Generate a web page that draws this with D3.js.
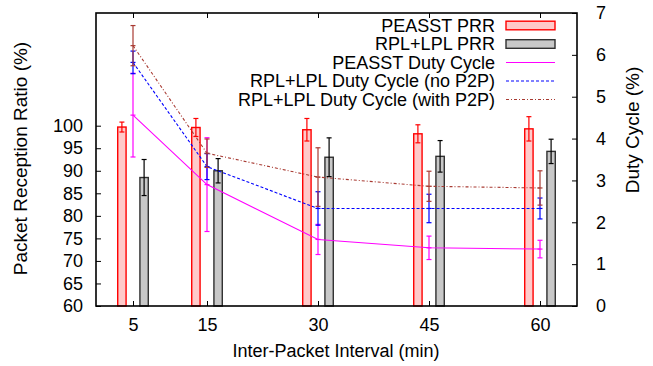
<!DOCTYPE html>
<html><head><meta charset="utf-8">
<script src="https://cdn.jsdelivr.net/npm/d3@7"></script>
<style>
html,body{margin:0;padding:0;background:#fff;}
svg text{font-family:"Liberation Sans",Arial,Helvetica,sans-serif;fill:#000;}
</style></head>
<body><svg id="c" width="653" height="366"></svg>
<script>
// ---- data ----
const intervals = [5, 15, 30, 45, 60];
const peasstPRR = [99.7, 99.6, 99.1, 98.2, 99.3];
const peasstPRRErr = [1.1, 2.0, 2.5, 2.0, 2.7];
const rplPRR = [88.5, 90.0, 93.0, 93.2, 94.3];
const rplPRRErr = [4.0, 2.7, 4.3, 3.5, 2.7];
const peasstDC = [4.56, 2.90, 1.59, 1.39, 1.36];
const peasstDCErr = [1.0, 1.12, 0.36, 0.28, 0.21];
const rplDCnoP2P = [5.82, 3.33, 2.33, 2.33, 2.33];
const rplDCnoP2PErr = [0.27, 0.31, 0.40, 0.34, 0.25];
const rplDCP2P = [6.22, 3.65, 3.08, 2.86, 2.82];
const rplDCP2PErr = [0.48, 0.34, 0.70, 0.36, 0.41];
const leftTicks = [60, 65, 70, 75, 80, 85, 90, 95, 100];
const rightTicks = [0, 1, 2, 3, 4, 5, 6, 7];
const legendLabels = ["PEASST PRR", "RPL+LPL PRR", "PEASST Duty Cycle", "RPL+LPL Duty Cycle (no P2P)", "RPL+LPL Duty Cycle (with P2P)"];

// ---- layout ----
const L = 96, R = 577, T = 13, B = 306;
const svg = d3.select("#c");
const x = d3.scaleLinear().domain([0, 65]).range([L, R]);
const yL = d3.scaleLinear().domain([60, 125]).range([B, T]);
const yR = d3.scaleLinear().domain([0, 7]).range([B, T]);
const FS = 18;
const barOff = 1.5, barW = 1.13;
const bw = x(barW) - x(0);
const brown = "#a83a32";

// bars
const gBars = svg.append("g");
function bars(vals, errs, off, fill, stroke, errColor) {
  intervals.forEach((iv, i) => {
    const cx = x(iv + off);
    gBars.append("rect").attr("x", cx - bw / 2).attr("y", yL(vals[i]))
      .attr("width", bw).attr("height", yL(60) - yL(vals[i]))
      .attr("fill", fill).attr("stroke", stroke).attr("stroke-width", 1.4);
    const e = gBars.append("g").attr("stroke", errColor).attr("stroke-width", 1.2);
    e.append("line").attr("x1", cx).attr("x2", cx).attr("y1", yL(vals[i] - errs[i])).attr("y2", yL(vals[i] + errs[i]));
    [vals[i] - errs[i], vals[i] + errs[i]].forEach(v =>
      e.append("line").attr("x1", cx - 2.5).attr("x2", cx + 2.5).attr("y1", yL(v)).attr("y2", yL(v)));
  });
}
bars(peasstPRR, peasstPRRErr, -barOff, "#ffcaca", "#ff0000", "#ff0000");
bars(rplPRR, rplPRRErr, barOff, "#c8c8c8", "#303030", "#000");

// duty cycle lines
const lineGen = d3.line().x(d => x(d[0])).y(d => yR(d[1]));
function dcLine(vals, errs, color, dash) {
  const g = svg.append("g");
  g.append("path").datum(intervals.map((iv, i) => [iv, vals[i]]))
    .attr("d", lineGen).attr("fill", "none").attr("stroke", color)
    .attr("stroke-width", 1.1).attr("stroke-dasharray", dash);
  intervals.forEach((iv, i) => {
    const cx = x(iv);
    const e = g.append("g").attr("stroke", color).attr("stroke-width", 1.2);
    e.append("line").attr("x1", cx).attr("x2", cx).attr("y1", yR(vals[i] - errs[i])).attr("y2", yR(vals[i] + errs[i]));
    [vals[i] - errs[i], vals[i], vals[i] + errs[i]].forEach(v =>
      e.append("line").attr("x1", cx - 2.5).attr("x2", cx + 2.5).attr("y1", yR(v)).attr("y2", yR(v)));
  });
}
dcLine(peasstDC, peasstDCErr, "#ff00ff", null);
dcLine(rplDCnoP2P, rplDCnoP2PErr, "#0000ff", "3,2");
dcLine(rplDCP2P, rplDCP2PErr, brown, "3,2,1,2");

// axes
function styleAxis(g) {
  g.select(".domain").remove();
  g.selectAll(".tick line").attr("stroke", "#000").attr("stroke-width", 1);
  g.selectAll("text").attr("font-size", FS).attr("font-family", null);
}
svg.append("g").attr("transform", `translate(0,${B})`)
  .call(d3.axisBottom(x).tickValues(intervals).tickSize(-5).tickPadding(12).tickFormat(d3.format("d"))).call(styleAxis);
svg.append("g").attr("transform", `translate(0,${T})`)
  .call(d3.axisTop(x).tickValues(intervals).tickSize(-5).tickFormat("")).call(styleAxis);
svg.append("g").attr("transform", `translate(${L},0)`)
  .call(d3.axisLeft(yL).tickValues(leftTicks).tickSize(-5).tickPadding(13).tickFormat(d3.format("d"))).call(styleAxis);
svg.append("g").attr("transform", `translate(${R},0)`)
  .call(d3.axisRight(yR).tickValues(rightTicks).tickSize(-5).tickPadding(19).tickFormat(d3.format("d"))).call(styleAxis);

// border
svg.append("rect").attr("x", L).attr("y", T).attr("width", R - L).attr("height", B - T)
  .attr("fill", "none").attr("stroke", "#000").attr("stroke-width", 1.6);

// titles
svg.append("text").attr("x", 336).attr("y", 357).attr("text-anchor", "middle")
  .attr("font-size", FS).text("Inter-Packet Interval (min)");
svg.append("text").attr("transform", "translate(27,158.5) rotate(-90)").attr("text-anchor", "middle")
  .attr("font-size", 19).text("Packet Reception Ratio (%)");
svg.append("text").attr("transform", "translate(639,130) rotate(-90)").attr("text-anchor", "middle")
  .attr("font-size", 19).text("Duty Cycle (%)");

// legend
const legY = [25.5, 44, 62.5, 81, 99.5];
const lg = svg.append("g");
const sx1 = 506, sx2 = 555;
legendLabels.forEach((lab, i) => {
  lg.append("text").attr("x", 495).attr("y", legY[i]).attr("dy", "0.35em")
    .attr("text-anchor", "end").attr("font-size", FS).text(lab);
});
lg.append("rect").attr("x", sx1).attr("y", legY[0] - 4.3).attr("width", sx2 - sx1).attr("height", 8.6)
  .attr("fill", "#ffcaca").attr("stroke", "#ff0000").attr("stroke-width", 1.4);
lg.append("rect").attr("x", sx1).attr("y", legY[1] - 4.3).attr("width", sx2 - sx1).attr("height", 8.6)
  .attr("fill", "#c8c8c8").attr("stroke", "#303030").attr("stroke-width", 1.4);
[["#ff00ff", null], ["#0000ff", "3,2"], [brown, "3,2,1,2"]].forEach((s, j) => {
  lg.append("line").attr("x1", sx1).attr("x2", sx2).attr("y1", legY[j + 2]).attr("y2", legY[j + 2])
    .attr("stroke", s[0]).attr("stroke-width", 1.1).attr("stroke-dasharray", s[1]);
});
</script></body></html>
